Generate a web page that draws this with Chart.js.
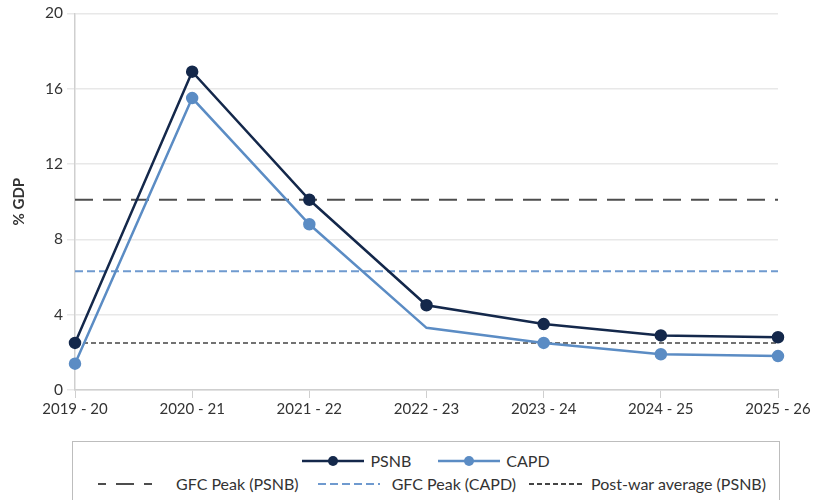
<!DOCTYPE html>
<html>
<head>
<meta charset="utf-8">
<script src="https://cdn.jsdelivr.net/npm/chart.js@4.4.1/dist/chart.umd.min.js"></script>
<style>
    body { margin: 0; background: #fff; font-family: Lato, sans-serif; color: #333; }
    #wrap { position: relative; width: 816px; height: 500px; }
    #chartBox { position: absolute; left: 0; top: 0; width: 816px; height: 420px; }
    #legend {
        position: absolute; left: 72px; top: 441px; width: 708px; height: 60px;
        border: 1px solid #bdbdbd; box-sizing: border-box; font-size: 16px;
    }
    .row { display: flex; justify-content: center; align-items: center; height: 23px; white-space: nowrap; }
    .row.first { margin-top: 7px; }
    .row.second { padding-left: 12px; }
    .item { display: flex; align-items: center; margin: 0 5px; flex-shrink: 0; }
    .item svg { margin-right: 6px; flex-shrink: 0; }
</style>
</head>
<body>
<div id="wrap">
    <div id="chartBox"><canvas id="debtChart"></canvas></div>
    <div id="legend">
        <div class="row first">
            <div class="item"><svg width="62" height="12"><line x1="0" y1="6" x2="62" y2="6" stroke="#14284b" stroke-width="2.5"/><circle cx="31" cy="6" r="5" fill="#14284b"/></svg>PSNB</div>
            <div class="item" style="margin-left:22px"><svg width="62" height="12"><line x1="0" y1="6" x2="62" y2="6" stroke="#5b8cc4" stroke-width="2.5"/><circle cx="31" cy="6" r="5" fill="#5b8cc4"/></svg>CAPD</div>
        </div>
        <div class="row second">
            <div class="item"><svg width="62" height="12"><line x1="0" y1="6" x2="62" y2="6" stroke="#4d4d4d" stroke-width="2" stroke-dasharray="8 10 18 10 8"/></svg><span style="margin-left:10px">GFC Peak (PSNB)</span></div>
            <div class="item" style="margin-left:14px"><svg width="62" height="12"><line x1="0" y1="6" x2="62" y2="6" stroke="#6f9acf" stroke-width="2" stroke-dasharray="8 4"/></svg><span style="margin-left:6px">GFC Peak (CAPD)</span></div>
            <div class="item" style="margin-left:8px"><svg width="56" height="12"><line x1="0" y1="6" x2="56" y2="6" stroke="#444" stroke-width="2" stroke-dasharray="5 3"/></svg>Post-war average (PSNB)</div>
        </div>
    </div>
</div>
<script>
const years = ["2019 - 20", "2020 - 21", "2021 - 22", "2022 - 23", "2023 - 24", "2024 - 25", "2025 - 26"];
const psnb = [2.5, 16.9, 10.1, 4.5, 3.5, 2.9, 2.8];
const capd = [1.4, 15.5, 8.8, 3.3, 2.5, 1.9, 1.8];
const capdMarkers = [5, 5, 5, 0, 5, 5, 5];
const gfcPeakPsnb = 10.1;
const gfcPeakCapd = 6.3;
const postWarAvg = 2.5;
const yTicks = [0, 4, 8, 12, 16, 20];

document.addEventListener("DOMContentLoaded", () => {
    const ctx = document.getElementById("debtChart").getContext("2d");
    const flat = (v) => years.map(() => v);

    new Chart(ctx, {
        type: "line",
        data: {
            labels: years,
            datasets: [
                { label: "GFC Peak (PSNB)", data: flat(gfcPeakPsnb), borderColor: "#4d4d4d", borderWidth: 2, borderDash: [18, 10], pointRadius: 0, order: 5 },
                { label: "GFC Peak (CAPD)", data: flat(gfcPeakCapd), borderColor: "#6f9acf", borderWidth: 2, borderDash: [8, 4], pointRadius: 0, order: 4 },
                { label: "Post-war average (PSNB)", data: flat(postWarAvg), borderColor: "#444", borderWidth: 1.5, borderDash: [5, 3], pointRadius: 0, order: 3 },
                { label: "CAPD", data: capd, borderColor: "#5b8cc4", backgroundColor: "#5b8cc4", borderWidth: 2.5, pointRadius: capdMarkers, pointHoverRadius: 5, order: 2 },
                { label: "PSNB", data: psnb, borderColor: "#14284b", backgroundColor: "#14284b", borderWidth: 2.5, pointRadius: 5, order: 1 }
            ]
        },
        options: {
            responsive: true,
            maintainAspectRatio: false,
            animation: false,
            layout: { padding: { left: 0, right: 38, top: 9, bottom: 0 } },
            plugins: {
                legend: { display: false },
                tooltip: { enabled: false }
            },
            scales: {
                x: {
                    offset: false,
                    grid: { drawOnChartArea: false, drawTicks: true, tickLength: 8, color: "#cfcfcf" },
                    border: { color: "#cfcfcf", width: 1.5 },
                    ticks: { color: "#333", font: { family: "Lato", size: 15 }, padding: 2, maxRotation: 0 }
                },
                y: {
                    min: 0,
                    max: 20,
                    afterFit: (scale) => { scale.width = 75; },
                    afterBuildTicks: (scale) => { scale.ticks = yTicks.map(v => ({ value: v })); },
                    grid: { color: "#e8e8e8", tickLength: 8, lineWidth: 1.5 },
                    border: { color: "#cfcfcf", width: 1.5 },
                    ticks: { color: "#333", font: { family: "Lato", size: 15.5 }, padding: 4 },
                    title: { display: true, text: "% GDP", color: "#333", font: { family: "Lato", size: 15, weight: "bold" }, padding: { top: 10, bottom: 0 } }
                }
            }
        }
    });
});
</script>
</body>
</html>
